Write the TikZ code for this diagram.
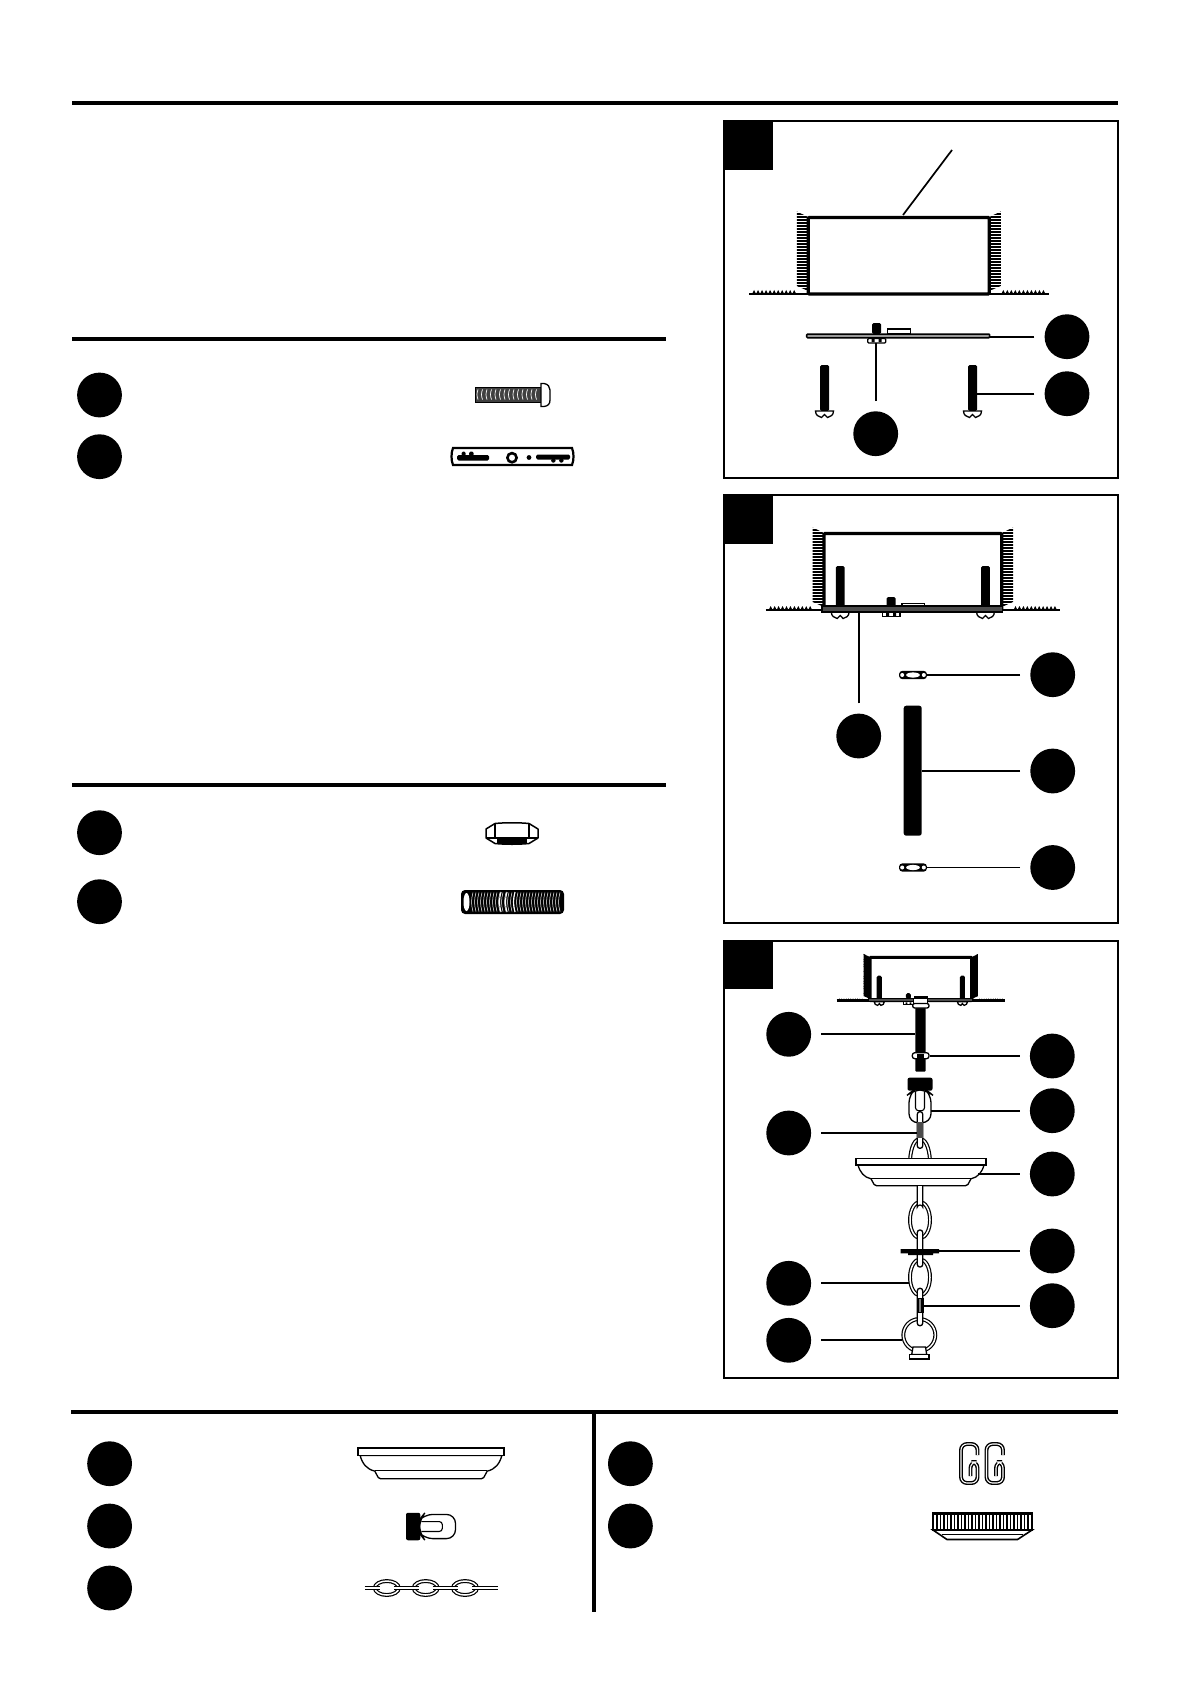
\documentclass[tikz,border=0pt]{standalone}
\tikzstyle{callout}=[circle,fill=black,minimum size=44.8pt,inner sep=0pt]
\tikzstyle{leader}=[line width=1.7pt,shorten <=10pt]
\tikzstyle{rulebar}=[line width=4pt]
\tikzstyle{panelframe}=[draw=black,line width=2pt]
\tikzstyle{outline}=[draw=black,line width=1.3pt,fill=white]
\tikzstyle{chainline}=[double=white,double distance=1.5pt,line width=1.2pt]
\tikzset{
  junctionbox/.pic={
    \begin{scope}
      \clip (-11.5,-4.5) -- (0,1) -- (0,75) -- (-11.5,70) -- cycle;
      \foreach \yy in {-5,-2,...,76} \draw[line width=2.2pt] (-12,\yy) -- (0,\yy);
    \end{scope}
    \begin{scope}
      \clip (191.5,-4.5) -- (180,1) -- (180,75) -- (191.5,70) -- cycle;
      \foreach \yy in {-5,-2,...,76} \draw[line width=2.2pt] (180,\yy) -- (192,\yy);
    \end{scope}
    \foreach \xx in {-56,-52,...,-16} \fill (\xx,78) -- ++(2,-4) -- ++(2,4) -- cycle;
    \foreach \xx in {192,196,...,232} \fill (\xx,78) -- ++(2,-4) -- ++(2,4) -- cycle;
    \draw[line width=2.4pt] (-59,78) -- (239,78);
    \draw[line width=3.2pt,rounded corners=1pt] (0,78) -- (0,1.5) -- (180,1.5) -- (180,78) -- cycle;
  },
  screwpart/.pic={
    \fill[rounded corners=1.5pt] (-4.5,0) rectangle (4.5,46);
    \draw[outline] (-9,46) .. controls (-9,50) and (-6,52) .. (-3,52.5) -- (0,49.5) -- (3,52.5) .. controls (6,52) and (9,50) .. (9,46) -- cycle;
  },
  sideplate/.pic={
    \fill[rounded corners=1.5pt] (65.5,-11) rectangle (74.5,0);
    \draw[outline] (80.5,-5) rectangle (103.5,0);
    \draw[outline,line width=1.5pt,fill=black!40,rounded corners=1pt] (0,0) rectangle (183,3.8);
    \draw[outline,rounded corners=1pt] (61,4.5) rectangle (79,9);
    \fill (65,5) rectangle (68,8) (72,5) rectangle (75,8);
  },
  mountedplate/.pic={
    \fill[rounded corners=1.5pt] (63.5,65) rectangle (72.5,75);
    \draw[outline] (79,71.5) rectangle (102,75.5);
    \path (16.4,34) pic[transform shape] {screwpart};
    \path (163.6,34) pic[transform shape] {screwpart};
    \draw[line width=1.2pt,fill=black!70] (-2,74) rectangle (181,80);
    \draw[outline] (59,80) rectangle (77,84.7);
    \fill (63,81) rectangle (66,84) (70,81) rectangle (73,84);
  },
  flatnut/.pic={
    \fill[rounded corners=3.5pt] (-14,-4.2) rectangle (14,4.2);
    \fill[white] (-10.8,0) circle (2) (10.8,0) circle (2);
    \fill[white] (0,0) ellipse [x radius=6.8,y radius=2.6];
  },
  canopypart/.pic={
    \draw[outline,line join=round] (-63,6.7) .. controls (-61,14) and (-57,19) .. (-50,20.5) -- (-47,26) [rounded corners=1.5pt] -- (-46,27.4) -- (46,27.4) [sharp corners] -- (47,26) -- (50,20.5) .. controls (57,19) and (61,14) .. (63,6.7) -- cycle;
    \draw[line width=1.5pt] (-50,20) -- (50,20);
    \draw[outline,line width=1.5pt] (-65,0) rectangle (65,6.7);
  },
  swivelpart/.pic={
    \draw[outline,rounded corners=9pt] (-11,16) -- (-11,45) -- (11,45) -- (11,16) -- (6,12) -- (-6,12) -- cycle;
    \draw[line width=1.1pt,rounded corners=3pt] (-4.5,14) -- (-4.5,33) -- (4.5,33) -- (4.5,14);
    \fill[rounded corners=2pt] (-12.5,0) rectangle (12.5,13);
  },
  clippart/.pic={
    \draw[chainline,double distance=1.1pt,line width=1.4pt,rounded corners=6pt] (17,12) -- (17,1) -- (0.5,1) -- (0.5,40) -- (17,40) -- (17,19) -- (10,19) -- (10,33);
  }
}
\begin{document}
\begin{tikzpicture}[x=1pt,y=-1pt]
  \useasboundingbox (0,0) rectangle (1192,1685);
  \draw[rulebar] (72,103) -- (1118,103);
  \draw[rulebar] (72,339) -- (666,339);
  \draw[rulebar] (72,785) -- (666,785);
  \draw[rulebar] (71,1412) -- (1118,1412);
  \draw[line width=3.6pt] (594,1412) -- (594,1612);
  % parts lists
  \node[callout] (partA) at (99.5,395) {};
  \node[callout] (partB) at (99.5,456.7) {};
  \node[callout] (partC) at (99.5,832.7) {};
  \node[callout] (partD) at (99.5,901.7) {};
  \node[callout] (partE) at (109.6,1463.7) {};
  \node[callout] (partF) at (109.6,1526) {};
  \node[callout] (partG) at (109.6,1588) {};
  \node[callout] (partH) at (630.4,1463.7) {};
  \node[callout] (partI) at (630.4,1526) {};
  % bolt
  \fill[black!75] (475,387) rectangle (541,402);
  \draw[line width=1pt] (475,387) rectangle (541,402);
  \foreach \xx in {478,482.5,...,538} \draw[white,line width=.7pt] (\xx,389.5) to[bend right=20] ++(0,10);
  \draw[outline] (541,383.5) -- (544,383.5) .. controls (548,384) and (550,387) .. (550,390) -- (550,400) .. controls (550,404) and (548,406) .. (544,406.5) -- (541,406.5) -- cycle;
  % bracket
  \draw[outline,line width=2.2pt] (453,448) -- (572,448) .. controls (574,453) and (574,460) .. (572,465) -- (453,465) .. controls (451,460) and (451,453) .. (453,448) -- cycle;
  \fill[rounded corners=1.5pt] (457,455) rectangle (489,460.5) (461.5,451.5) rectangle (465.5,456) (469,451.5) rectangle (473.5,456);
  \draw[line width=2.6pt] (512,457.7) circle (4.6);
  \fill (529,457.5) circle (2.4);
  \fill[rounded corners=1.5pt] (536,454.5) rectangle (570,459.5) (551,459) rectangle (555.5,462.5) (559,459) rectangle (563.5,462.5);
  % hex nut
  \fill (497,838) rectangle (527,844);
  \draw[line width=1.5pt,line join=round] (486,829) -- (495,823.5) .. controls (505,822.5) and (519,822.5) .. (529,823.5) -- (538,829) -- (538,838) -- (529,843.5) .. controls (519,844.5) and (505,844.5) .. (495,843.5) -- (486,838) -- cycle;
  \draw[line width=1.2pt] (495,824) -- (495,838) -- (529,838) -- (529,824) (486,838) -- (495,838) (529,838) -- (538,838);
  % threaded nipple
  \fill[rounded corners=4pt] (461,890) rectangle (564,914);
  \foreach \xx in {473,476,...,561} \draw[white,line width=.5pt] (\xx,892.5) to[bend right=15] ++(0,19);
  \foreach \xx in {501,507,515} \draw[white,line width=1.1pt] (\xx,892) to[bend right=15] ++(0,20);
  \fill[white] (466.5,902) ellipse [x radius=3,y radius=9];
  % canopy, swivel, chain
  \path (431,1448) pic[scale=1.125] {canopypart};
  \path (406,1526.5) pic[rotate=90,scale=1.1] {swivelpart};
  \draw[chainline] (364.5,1588) -- (497.5,1588);
  \foreach \xx in {386.8,425.7,465} {
    \draw[chainline,fill=white] (\xx,1588) ellipse [x radius=12,y radius=7];
    \draw[chainline] (\xx-20,1588) -- (\xx-7,1588) (\xx+7,1588) -- (\xx+20,1588);
  }
  % clips and knurled nut
  \path (960.5,1443) pic {clippart};
  \path (986,1443) pic {clippart};
  \draw[outline,line width=1.6pt] (933,1530) -- (947,1539.5) -- (1017.5,1539.5) -- (1032,1530) -- cycle;
  \draw[line width=1.1pt] (942,1534.5) -- (1023,1534.5);
  \draw[outline,line width=1.6pt] (933,1513) rectangle (1032,1530);
  \foreach \xx in {937,940.5,...,1029} \draw[line width=1.3pt] (\xx,1513) -- (\xx,1530);
  \draw[line width=2.4pt] (933,1513.5) -- (1032,1513.5);
  % first panel
  \draw[panelframe] (724,121) rectangle (1118,477.7);
  \fill (724,121) rectangle (773,170);
  \path (808.3,216) pic[xscale=1.005] {junctionbox};
  \path (806.7,334) pic {sideplate};
  \path (824.5,365) pic {screwpart};
  \path (972.5,365) pic {screwpart};
  \coordinate (topfree) at (952,150);
  \coordinate (topbox) at (903,215);
  \coordinate (plateend) at (990,336.7);
  \coordinate (screwside) at (977,393.7);
  \coordinate (nutbottom) at (875.7,343);
  \node[callout] (oneA) at (1067,336.7) {};
  \node[callout] (oneB) at (1067,393.7) {};
  \node[callout] (oneC) at (875.7,433.7) {};
  \draw[line width=1.7pt] (topfree) -- (topbox);
  \draw[leader] (oneA) -- (plateend);
  \draw[leader] (oneB) -- (screwside);
  \draw[leader] (oneC) -- (nutbottom);
  % second panel
  \draw[panelframe] (724,494.7) rectangle (1118,922.7);
  \fill (724,494.7) rectangle (773,543.7);
  \path (824,532) pic[xscale=.987] {junctionbox};
  \path (824,532) pic[xscale=.987] {mountedplate};
  \path (913,675) pic {flatnut};
  \path (913,867.5) pic {flatnut};
  \fill[black,rounded corners=2.5pt] (903.7,705.7) rectangle (921.7,835.7);
  \coordinate (plateunder) at (858.7,612);
  \coordinate (flatnutA) at (926.7,674.7);
  \coordinate (nipplemid) at (921.7,771);
  \coordinate (flatnutB) at (926.7,867.5);
  \node[callout] (twoA) at (858.7,736) {};
  \node[callout] (twoB) at (1052.7,674.7) {};
  \node[callout] (twoC) at (1052.7,771) {};
  \node[callout] (twoD) at (1052.7,867.5) {};
  \draw[leader] (twoA) -- (plateunder);
  \draw[leader] (twoB) -- (flatnutA);
  \draw[leader] (twoC) -- (nipplemid);
  \draw[leader] (twoD) -- (flatnutB);
  % third panel
  \draw[panelframe] (724,940.5) rectangle (1118,1377.7);
  \fill (724,940.5) rectangle (773,988.7);
  \path (870,956.5) pic[scale=.565] {junctionbox};
  \path (870,956.5) pic[scale=.565] {mountedplate};
  \draw[outline] (913.3,998.7) rectangle (927.3,1003.5);
  \fill[rounded corners=1pt] (915.3,1005) rectangle (925.7,1071.7);
  \draw[outline,rounded corners=2pt] (912.7,1003.5) rectangle (929,1008);
  \draw[outline,rounded corners=2.5pt] (912.3,1052.7) rectangle (929,1058.7);
  \fill (917,1053.5) rectangle (924,1057.9);
  \path (920,1077.7) pic {swivelpart};
  \draw[chainline] (910,1160) .. controls (911,1146) and (915,1139) .. (920,1139) .. controls (925,1139) and (929,1146) .. (930,1160);
  \draw[outline,rounded corners=2.5pt] (917.3,1111.7) rectangle (922.7,1148.3);
  \fill[black!70] (917.3,1122) rectangle (922.7,1138);
  \path (921,1158.3) pic {canopypart};
  \draw[chainline,fill=white] (920,1220) ellipse [x radius=10,y radius=18];
  \draw[chainline,fill=white] (920,1277.3) ellipse [x radius=10,y radius=18];
  \draw[outline,line width=1.2pt] (917.3,1186) -- (917.3,1207) arc[start angle=180,end angle=360,x radius=2.7,y radius=2] -- (922.7,1186);
  \draw[outline,rounded corners=2.5pt] (917.3,1230) rectangle (922.7,1267);
  \fill (900.7,1249) rectangle (939,1253.3) (908,1253) rectangle (933,1255);
  \draw[chainline,fill=white] (919.3,1335) circle (16);
  \draw[outline,rounded corners=2.5pt] (917.3,1288.3) rectangle (922.7,1325.7);
  \fill (916.5,1298) rectangle (923.5,1313);
  \fill[black!50] (919.3,1299) rectangle (921,1312);
  \draw[outline] (913,1347) -- (911.7,1354.5) -- (926.7,1354.5) -- (925.5,1347) -- cycle;
  \draw[outline] (909.3,1354.5) rectangle (929,1359);
  \coordinate (rodside) at (915.3,1034.3);
  \coordinate (linkupper) at (917,1133);
  \coordinate (ovallower) at (909.3,1283.3);
  \coordinate (ringside) at (902,1340.3);
  \coordinate (rodnut) at (929.7,1056);
  \coordinate (swivelside) at (931,1110.7);
  \coordinate (canopyside) at (978,1174);
  \coordinate (discside) at (938.5,1251);
  \coordinate (linklower) at (923.5,1305.7);
  \node[callout] (threeA) at (788.7,1034.3) {};
  \node[callout] (threeB) at (788.7,1133) {};
  \node[callout] (threeC) at (788.7,1283.3) {};
  \node[callout] (threeD) at (788.7,1340.3) {};
  \node[callout] (threeE) at (1052.3,1056) {};
  \node[callout] (threeF) at (1052.3,1110.7) {};
  \node[callout] (threeG) at (1052.3,1174) {};
  \node[callout] (threeH) at (1052.3,1251) {};
  \node[callout] (threeI) at (1052.3,1305.7) {};
  \draw[leader] (threeA) -- (rodside);
  \draw[leader] (threeB) -- (linkupper);
  \draw[leader] (threeC) -- (ovallower);
  \draw[leader] (threeD) -- (ringside);
  \draw[leader] (threeE) -- (rodnut);
  \draw[leader] (threeF) -- (swivelside);
  \draw[leader] (threeG) -- (canopyside);
  \draw[leader] (threeH) -- (discside);
  \draw[leader] (threeI) -- (linklower);
\end{tikzpicture}
\end{document}
